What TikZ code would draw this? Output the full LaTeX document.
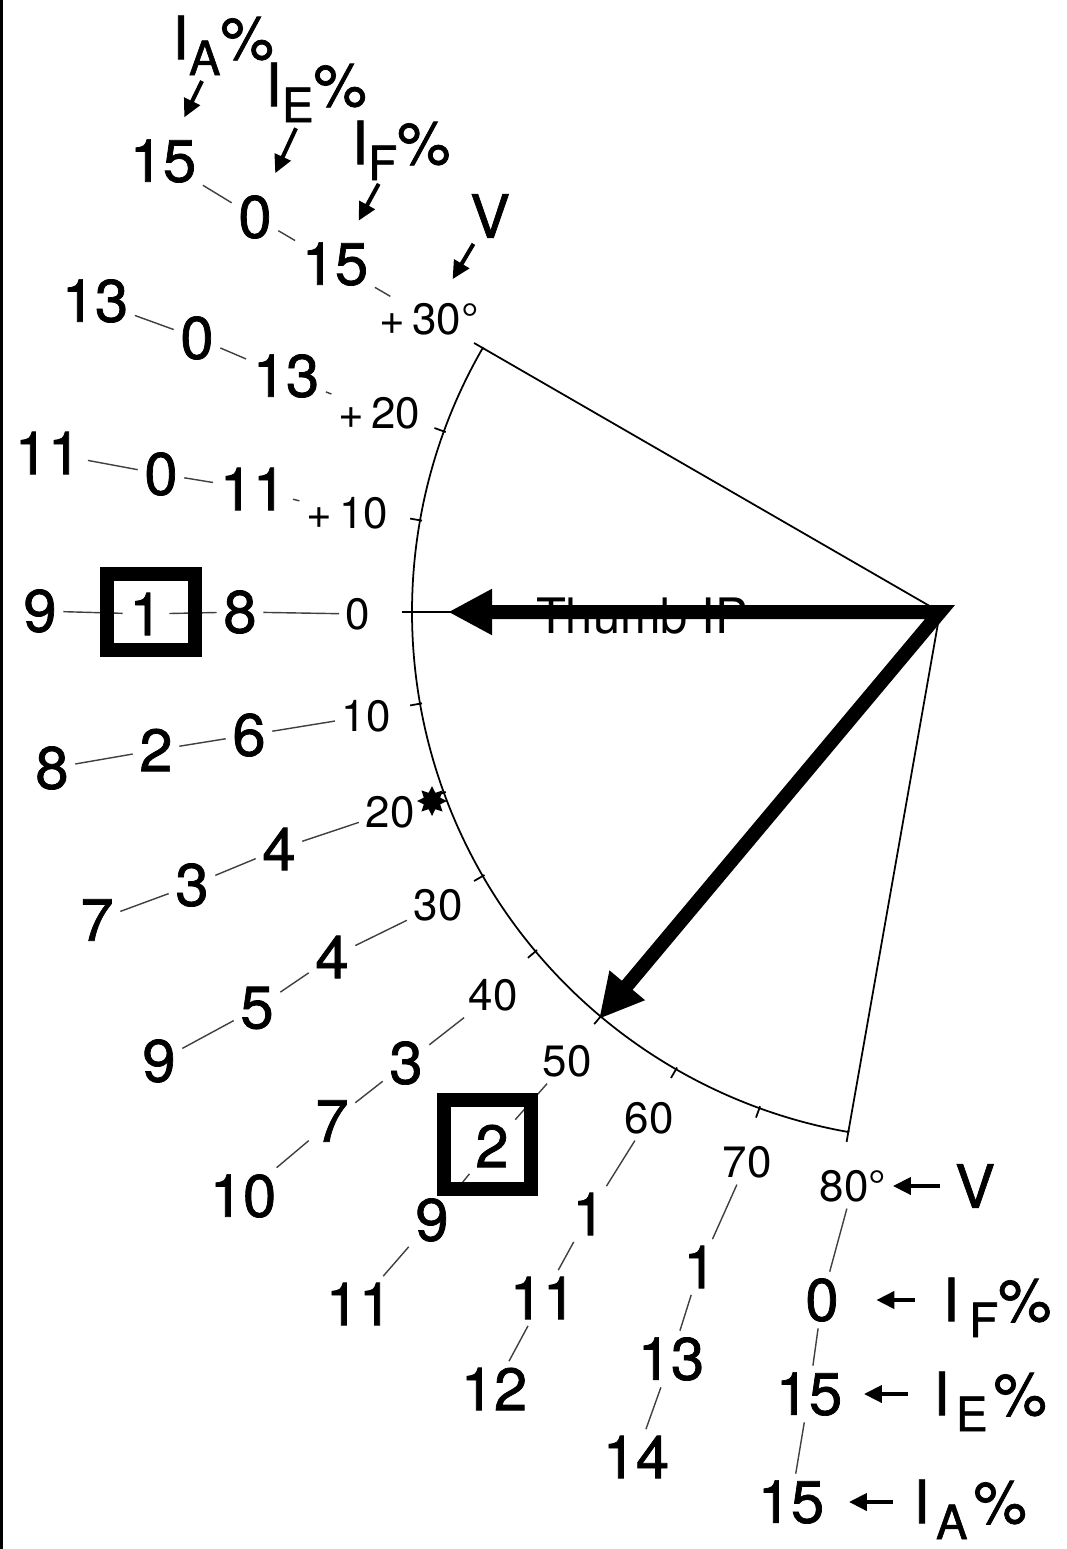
\documentclass[tikz,border=0pt]{standalone}
\usepackage{fontspec}
\setmainfont{TeX Gyre Heros}
\newfontfamily\valfont{TeX Gyre Heros}[FakeBold=1.2]
\usetikzlibrary{arrows.meta,shapes.geometric}
\newcommand\lowsub[1]{\raisebox{-1.6mm}[0pt][0pt]{\fontsize{13.5pt}{14pt}\selectfont #1}}

\begin{document}
\begin{tikzpicture}[
x=0.1mm, y=-0.1mm,
val/.style={font=\valfont\fontsize{17pt}{20pt}\selectfont, inner sep=0.6mm},
lab/.style={val, inner sep=0.2mm},
deg/.style={font=\fontsize{12.5pt}{14pt}\selectfont, inner sep=0.6mm},
link/.style={line width=0.4pt, black!75},
sector/.style={line width=0.5pt},
markbox/.style={draw, line width=1.4mm, inner sep=0pt},
bigarrow/.style={line width=1.4mm, line join=miter, {Triangle[length=4.4mm,width=4.3mm]}-{Triangle[length=4.4mm,width=4.3mm]}},
pointer/.style={line width=0.4mm, -{Triangle[length=1.8mm,width=1.7mm]}, shorten <=2mm, shorten >=1.7mm}
]
\fill[white] (0,0) rectangle (1066,1549);
\useasboundingbox (0,0) rectangle (1066,1549);
\fill (0,0) rectangle (3,1549);

\coordinate (C) at (940,612);
\draw[sector] (C) -- ++(210:528) arc (210:100:528) -- cycle;
\draw[sector] (C) -- ++(180:528);
\foreach \f in {-30,-20,...,80} \draw[sector] (C) ++({180-\f}:526) -- ++({180-\f}:12);
\node[star, star points=8, star point ratio=1.7, fill, inner sep=0pt, minimum size=3mm] (mark20) at (432,801) {};

\node[font=\fontsize{13.9pt}{16pt}\selectfont, inner sep=0pt] (joint) at (642,616) {Thumb IP};
\coordinate (tip0) at (448,612);
\coordinate (tip50) at (599,1019);
\draw[bigarrow] (tip0) -- (C) -- (tip50);

\node[deg] (deg-e30) at (429,319) {+\,30°};
\node[val] (if-e30) at (335,264) {15};
\node[val] (ie-e30) at (255,217) {0};
\node[val] (ia-e30) at (163,161) {15};

\node[deg] (deg-e20) at (379,413) {+\,20};
\node[val] (if-e20) at (286,376) {13};
\node[val] (ie-e20) at (197,338) {0};
\node[val] (ia-e20) at (95,301) {13};

\node[deg] (deg-e10) at (347,513) {+\,10};
\node[val] (if-e10) at (253,489) {11};
\node[val] (ie-e10) at (161,474) {0};
\node[val] (ia-e10) at (48,453) {11};

\node[deg] (deg-z0) at (358,614) {0};
\node[val] (if-z0) at (240,612) {8};
\node[val] (ie-z0) at (146,614) {1};
\node[val] (ia-z0) at (40,611) {9};

\node[deg] (deg-f10) at (366,716) {10};
\node[val] (if-f10) at (249,735) {6};
\node[val] (ie-f10) at (156,750) {2};
\node[val] (ia-f10) at (52,768) {8};

\node[deg] (deg-f20) at (390,812) {20};
\node[val] (if-f20) at (279,849) {4};
\node[val] (ie-f20) at (192,885) {3};
\node[val] (ia-f20) at (97,920) {7};

\node[deg] (deg-f30) at (438,905) {30};
\node[val] (if-f30) at (332,957) {4};
\node[val] (ie-f30) at (257,1008) {5};
\node[val] (ia-f30) at (159,1061) {9};

\node[deg] (deg-f40) at (493,995) {40};
\node[val] (if-f40) at (406,1063) {3};
\node[val] (ie-f40) at (332,1121) {7};
\node[val] (ia-f40) at (243,1196) {10};

\node[deg] (deg-f50) at (567,1061) {50};
\node[val] (if-f50) at (492,1146) {2};
\node[val] (ie-f50) at (432,1220) {9};
\node[val] (ia-f50) at (359,1304) {11};

\node[deg] (deg-f60) at (649,1118) {60};
\node[val] (if-f60) at (589,1214) {1};
\node[val] (ie-f60) at (543,1298) {11};
\node[val] (ia-f60) at (494,1389) {12};

\node[deg] (deg-f70) at (747,1162) {70};
\node[val] (if-f70) at (700,1267) {1};
\node[val] (ie-f70) at (671,1359) {13};
\node[val] (ia-f70) at (636,1457) {14};

\node[deg] (deg-f80) at (853,1186) {80°};
\node[val] (if-f80) at (822,1300) {0};
\node[val] (ie-f80) at (809,1394) {15};
\node[val] (ia-f80) at (791,1502) {15};

\foreach \r in {e30,e20,e10,z0,f10,f20,f30,f40,f50,f60,f70,f80}
  \draw[link] (deg-\r) -- (if-\r) -- (ie-\r) -- (ia-\r);

\node[markbox, minimum width=8.8mm, minimum height=7.6mm] (box1) at (151,612) {};
\node[markbox, minimum width=8.7mm, minimum height=8.9mm] (box2) at (487,1144) {};

\node[lab] (lab-ia) at (223,38) {I\lowsub{A}\%};
\node[lab] (lab-ie) at (316,85) {I\lowsub{E}\%};
\node[lab] (lab-if) at (401,143) {I\lowsub{F}\%};
\node[lab] (lab-v) at (490,216) {V};
\node[lab] (end-v) at (975,1186) {V};
\node[lab] (end-if) at (997,1300) {I\,\lowsub{F}\%};
\node[lab] (end-ie) at (990,1394) {I\hspace{0.6mm}\lowsub{E}\hspace{0.6mm}\%};
\node[lab] (end-ia) at (970,1502) {I\hspace{0.6mm}\lowsub{A}\hspace{0.6mm}\%};

\draw[pointer] (lab-ia) -- (ia-e30);
\draw[pointer] (lab-ie) -- (ie-e30);
\draw[pointer, shorten <=1.8mm] (lab-if) -- (if-e30);
\draw[pointer, shorten <=0.4mm, shorten >=2mm] (lab-v) -- (deg-e30);
\draw[pointer, shorten <=1.2mm, shorten >=0mm] (end-v) -- (deg-f80);
\draw[pointer, shorten <=2.5mm, shorten >=3.1mm] (end-if) -- (if-f80);
\draw[pointer, shorten <=2.3mm, shorten >=1.5mm] (end-ie) -- (ie-f80);
\draw[pointer, shorten <=1.8mm, shorten >=1.8mm] (end-ia) -- (ia-f80);
\end{tikzpicture}
\end{document}
